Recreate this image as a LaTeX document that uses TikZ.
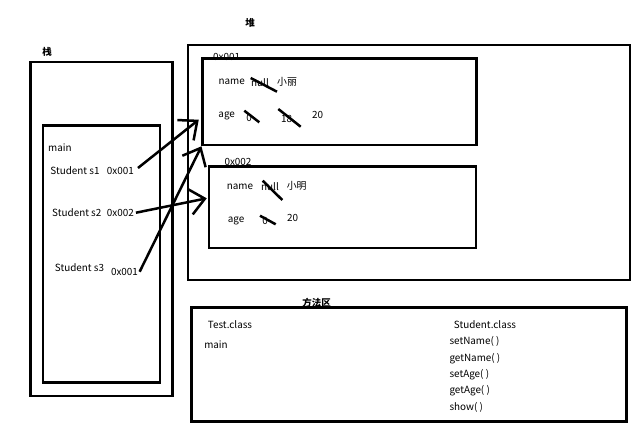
\documentclass[tikz,border=0pt]{standalone}
\usepackage{fontspec}
\setmainfont{Noto Sans CJK SC}
\usetikzlibrary{arrows.meta}

\tikzset{
  box/.style={draw, line width=2.5pt, inner sep=0pt},
  txt/.style={inner sep=0pt, font=\fontsize{9.9}{11}\selectfont},
  title/.style={inner sep=0pt, font=\fontsize{9.5}{11}\selectfont\bfseries},
  ptr/.style={-{Straight Barb[length=15pt,width=26pt]}, line width=2.5pt},
  strike/.style={line width=2.5pt},
}

\begin{document}
\begin{tikzpicture}[x=1pt,y=-1pt]
    \useasboundingbox (0,0) rectangle (639,424);

    % Stack
    \node[title] (stacklbl) at (47,52) {栈};
    \node[box, minimum width=142pt, minimum height=334pt] (stack) at (101.7,228.8) {};
    \node[box, minimum width=117pt, minimum height=257pt] (mainframe) at (101.3,254.2) {};
    \node[txt] (mainlbl) at (60,147.7) {main};
    \node[txt] (s1) at (75,171) {Student s1};
    \node[txt] (s1addr) at (120.3,171) {0x001};
    \node[txt] (s2) at (76.8,212.7) {Student s2};
    \node[txt] (s2addr) at (120.3,212.7) {0x002};
    \node[txt] (s3) at (79.5,267.3) {Student s3};
    \node[txt] (s3addr) at (124.5,271.7) {0x001};

    % Heap
    \node[title] (heaplbl) at (250,23) {堆};
    \node[box, minimum width=442pt, minimum height=235pt] (heap) at (408.8,162.5) {};
    \node[txt] (addr1) at (226.7,56.7) {0x001};
    \node[box, minimum width=274pt, minimum height=86.7pt] (obj1) at (339.7,101.7) {};
    \node[txt] (addr2) at (238,161.7) {0x002};
    \node[box, minimum width=267pt, minimum height=81.3pt] (obj2) at (342.5,207.3) {};

    % Object 0x001
    \node[txt] (o1name) at (231.7,82.3) {name};
    \node[txt] (o1null) at (260,83) {null};
    \node[txt] (o1new) at (287,82) {小丽};
    \node[txt] (o1age) at (226.7,116) {age};
    \node[txt] (o1zero) at (249,118) {0};
    \node[txt] (o1old) at (286.7,119) {18};
    \node[txt] (o1val) at (317.7,115) {20};
    \draw[strike] (250.7,78) -- (277,91.7);
    \draw[strike] (244.3,110.7) -- (259.3,122.3);
    \draw[strike] (278.3,109) -- (300.7,126.7);

    % Object 0x002
    \node[txt] (o2name) at (240,186.7) {name};
    \node[txt] (o2null) at (270,187) {null};
    \node[txt] (o2new) at (296.7,185.7) {小明};
    \node[txt] (o2age) at (236,220.7) {age};
    \node[txt] (o2zero) at (265,221) {0};
    \node[txt] (o2val) at (292.7,218.3) {20};
    \draw[strike] (262.7,180.7) -- (282.3,200);
    \draw[strike] (260,215.7) -- (275.7,224.3);

    % References
    \draw[ptr] ([xshift=4pt,yshift=3pt]s1addr.east) -- ([xshift=-2.7pt,yshift=-18pt]obj1.west);
    \draw[ptr] ([xshift=2pt]s2addr.east) -- ([xshift=-1pt,yshift=9pt]obj2.west);
    \draw[ptr] ([xshift=1.5pt]s3addr.east) -- (obj1.south west);

    % Method area
    \node[title] (methodlbl) at (316.7,303.3) {方法区};
    \node[box, minimum width=435pt, minimum height=114pt] (method) at (409.2,364.7) {};
    \node[txt] (testcls) at (230,324.3) {Test.class};
    \node[txt] (testmain) at (216,344.3) {main};
    \node[txt] (stucls) at (485,324.3) {Student.class};
    \node[txt, anchor=west] (m1) at (449.3,341.7) {setName( )};
    \node[txt, anchor=west] (m2) at (449.3,358.3) {getName( )};
    \node[txt, anchor=west] (m3) at (449.3,374.3) {setAge( )};
    \node[txt, anchor=west] (m4) at (449.3,391) {getAge( )};
    \node[txt, anchor=west] (m5) at (449.3,407.7) {show( )};
\end{tikzpicture}
\end{document}
